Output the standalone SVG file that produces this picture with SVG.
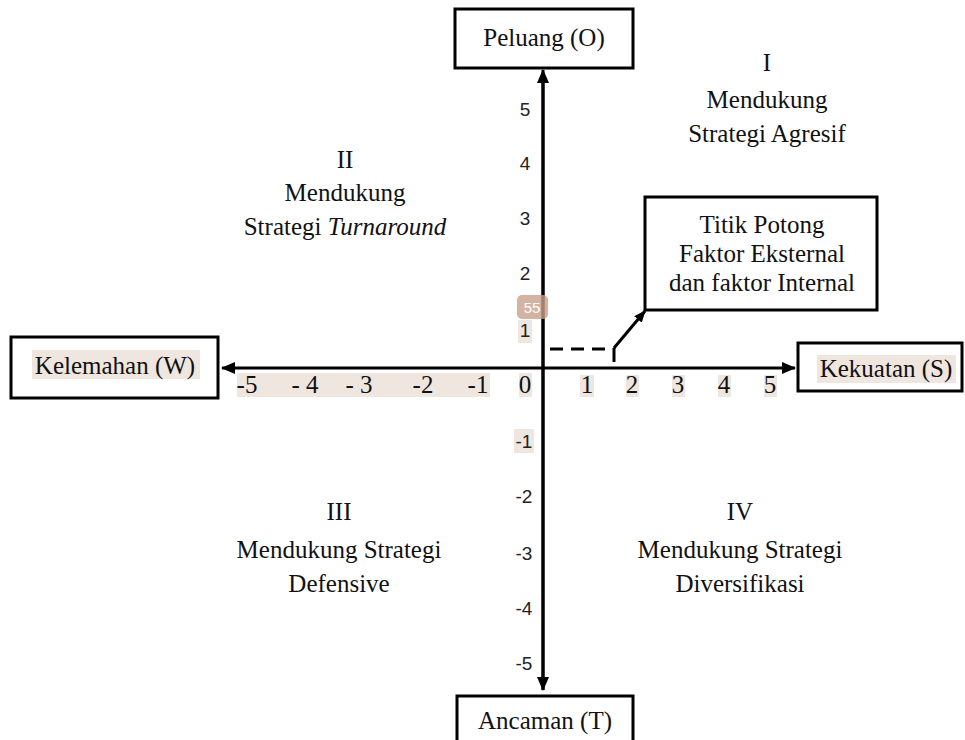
<svg xmlns="http://www.w3.org/2000/svg" width="965" height="740" viewBox="0 0 965 740">
<defs>
<marker id="ah" viewBox="0 0 14 12" refX="13" refY="6" markerWidth="14" markerHeight="12" markerUnits="userSpaceOnUse" orient="auto-start-reverse"><path d="M0,0 L14,6 L0,12 Z" fill="#000"/></marker>
<marker id="ahs" viewBox="0 0 12 10" refX="11" refY="5" markerWidth="12" markerHeight="10" markerUnits="userSpaceOnUse" orient="auto"><path d="M0,0 L12,5 L0,10 Z" fill="#000"/></marker>
</defs>
<style>
.box{fill:#fff;stroke:#000;stroke-width:3}
.t{font-family:"Liberation Serif","Times New Roman",serif;font-size:25px;fill:#111;text-anchor:middle}
.n{font-family:"Liberation Sans",Arial,sans-serif;font-size:19px;fill:#222;text-anchor:middle}
.hl{fill:#efe6e0}
.ax{stroke:#000;stroke-width:3;fill:none}
</style>
<rect width="965" height="740" fill="#fff"/>

<g id="connectors">
<line class="ax" x1="543" y1="690" x2="543" y2="70" marker-end="url(#ah)"/>
<line class="ax" x1="543" y1="75" x2="543" y2="690" marker-end="url(#ah)"/>
<line class="ax" x1="222" y1="368" x2="795" y2="368" marker-start="url(#ah)" marker-end="url(#ah)"/>
<line x1="550" y1="349" x2="612" y2="349" stroke="#000" stroke-width="3" stroke-dasharray="13,8"/>
<line x1="614" y1="362" x2="614" y2="348" stroke="#000" stroke-width="3"/>
<line x1="614" y1="348" x2="645" y2="311" stroke="#000" stroke-width="3" marker-end="url(#ahs)"/>
</g>

<g id="node-peluang">
<rect class="box" x="455" y="9" width="178" height="59"/>
<text class="t" x="544" y="46">Peluang (O)</text>
</g>
<g id="node-ancaman">
<rect class="box" x="457" y="696" width="176" height="60"/>
<text class="t" x="545" y="729">Ancaman (T)</text>
</g>
<g id="node-kelemahan">
<rect class="box" x="11" y="337" width="207" height="61"/>
<rect class="hl" x="32" y="350" width="168" height="29"/>
<text class="t" x="115" y="374">Kelemahan (W)</text>
</g>
<g id="node-kekuatan">
<rect class="box" x="798" y="343" width="164" height="48"/>
<rect class="hl" x="817" y="355" width="139" height="28"/>
<text class="t" x="886" y="377">Kekuatan (S)</text>
</g>
<g id="node-titik">
<rect class="box" x="645" y="197" width="232" height="113"/>
<text class="t" x="762" y="233">Titik Potong</text>
<text class="t" x="762" y="262">Faktor Eksternal</text>
<text class="t" x="762" y="291">dan faktor Internal</text>
</g>

<g id="x-labels">
<rect class="hl" x="237" y="373" width="253" height="24"/>
<rect class="hl" x="519" y="373" width="13" height="24"/>
<rect class="hl" x="580" y="375" width="14" height="22"/>
<rect class="hl" x="626" y="375" width="13" height="22"/>
<rect class="hl" x="672" y="375" width="13" height="22"/>
<rect class="hl" x="718" y="375" width="13" height="22"/>
<rect class="hl" x="764" y="375" width="13" height="22"/>
<text class="t" x="247" y="393">-5</text>
<text class="t" x="305" y="393">- 4</text>
<text class="t" x="359" y="393">- 3</text>
<text class="t" x="423" y="393">-2</text>
<text class="t" x="478" y="393">-1</text>
<text class="t" x="525" y="393">0</text>
<text class="t" x="587" y="393">1</text>
<text class="t" x="632" y="393">2</text>
<text class="t" x="678" y="393">3</text>
<text class="t" x="724" y="393">4</text>
<text class="t" x="770" y="393">5</text>
</g>

<g id="y-labels">
<rect class="hl" x="518" y="320" width="14" height="23"/>
<rect class="hl" x="514" y="429" width="20" height="24"/>
<text class="n" x="525" y="116">5</text>
<text class="n" x="525" y="170">4</text>
<text class="n" x="525" y="225">3</text>
<text class="n" x="525" y="280">2</text>
<text class="n" x="525" y="337">1</text>
<text class="n" x="524" y="448">-1</text>
<text class="n" x="524" y="503">-2</text>
<text class="n" x="524" y="560">-3</text>
<text class="n" x="524" y="615">-4</text>
<text class="n" x="524" y="670">-5</text>
<rect x="517" y="295" width="31" height="24" rx="5" fill="#c9a08c" fill-opacity="0.8"/>
<text x="532" y="313" font-family="'Liberation Sans',Arial,sans-serif" font-size="15" fill="#fff" text-anchor="middle">55</text>
</g>

<g id="quadrant-1">
<text class="t" x="767" y="71">I</text>
<text class="t" x="767" y="108">Mendukung</text>
<text class="t" x="767" y="142">Strategi Agresif</text>
</g>
<g id="quadrant-2">
<text class="t" x="345" y="168">II</text>
<text class="t" x="345" y="201">Mendukung</text>
<text class="t" x="345" y="235">Strategi <tspan font-style="italic">Turnaround</tspan></text>
</g>
<g id="quadrant-3">
<text class="t" x="339" y="520">III</text>
<text class="t" x="339" y="558">Mendukung Strategi</text>
<text class="t" x="339" y="592">Defensive</text>
</g>
<g id="quadrant-4">
<text class="t" x="740" y="520">IV</text>
<text class="t" x="740" y="558">Mendukung Strategi</text>
<text class="t" x="740" y="592">Diversifikasi</text>
</g>
</svg>
